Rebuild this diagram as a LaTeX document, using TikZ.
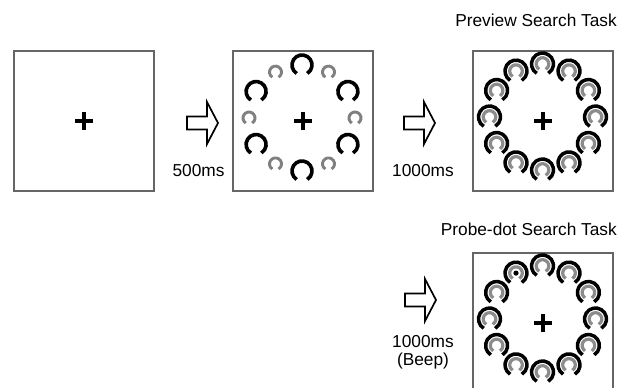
\documentclass[tikz,border=0pt]{standalone}
\usepackage{fontspec}
\setmainfont{Liberation Sans}
\begin{document}
\begin{tikzpicture}[x=1bp,y=-1bp,
  frame/.style={draw=black!60, line width=1.1bp, minimum size=140bp, inner sep=0pt},
  lbl/.style={font=\fontsize{17.3bp}{18bp}\selectfont, inner sep=0pt},
  fix/.pic={\draw[line width=3.4bp] (-9,0) -- (9,0) (0,-9) -- (0,9);},
  bigC/.pic={\draw[line width=3.6bp] (122:10) arc[start angle=122, end angle=418, radius=10];},
  smallC/.pic={\draw[black!50, line width=2.9bp] (122:6) arc[start angle=122, end angle=418, radius=6];},
  dblC/.pic={\draw[line width=3.5bp] (122:11) arc[start angle=122, end angle=418, radius=11];
             \draw[black!45, line width=3.2bp] (122:6.3) arc[start angle=122, end angle=418, radius=6.3];},
  blockarrow/.pic={\draw[line width=1.7bp, fill=white] (0,-6.5) -- (20,-6.5) -- (20,-21) -- (31,0) -- (20,21) -- (20,6.5) -- (0,6.5) -- cycle;}
]
\clip (0,0) rectangle (643,387);
\fill[white] (0,0) rectangle (643,387);

% frames
\node[frame] (b1) at (84,121) {};
\node[frame] (b2) at (303,121) {};
\node[frame] (b3) at (543,121) {};
\node[frame] (b4) at (543,323) {};

% fixation crosses
\pic at (b1.center) {fix};
\pic at (b2.center) {fix};
\pic at (b3.center) {fix};
\pic at (b4.center) {fix};

% preview display
\begin{scope}[shift={(302,118)}]
  \foreach \a in {30,90,...,330} \pic at (\a:53) {bigC};
  \foreach \a in {0,60,...,300} \pic at (\a:53) {smallC};
\end{scope}

% search display
\begin{scope}[shift={(542.5,117)}]
  \foreach \a in {0,30,...,330} \pic at (\a:53) {dblC};
\end{scope}

% probe-dot display
\begin{scope}[shift={(542.5,319)}]
  \foreach \a in {0,30,...,330} \pic at (\a:53) {dblC};
  \fill (240:53) circle[radius=2.6];
\end{scope}

% arrows
\pic at (187,123) {blockarrow};
\pic at (404,123) {blockarrow};
\pic at (405,300) {blockarrow};

% labels
\node[lbl] (t1) at (198.5,171) {500ms};
\node[lbl] (t2) at (423,171) {1000ms};
\node[lbl, align=center, anchor=north] (t3) at (423,335) {1000ms\\(Beep)};
\node[lbl, anchor=east] (h1) at (617,20) {Preview Search Task};
\node[lbl, anchor=east] (h2) at (617,229) {Probe-dot Search Task};
\end{tikzpicture}
\end{document}
